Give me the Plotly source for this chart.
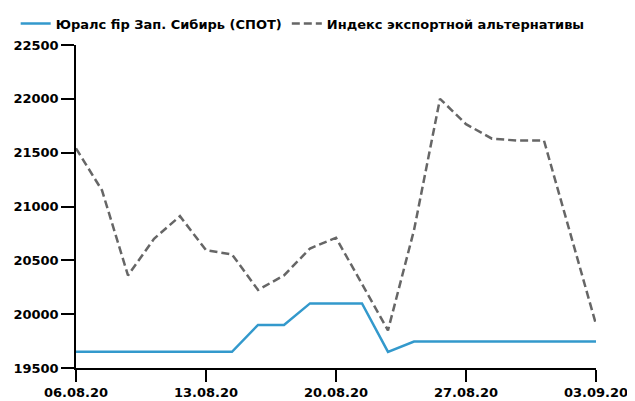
import plotly.graph_objects as go

dates = ["06.08.20", "07.08.20", "10.08.20", "11.08.20", "12.08.20", "13.08.20", "14.08.20",
         "17.08.20", "18.08.20", "19.08.20", "20.08.20", "21.08.20", "24.08.20", "25.08.20",
         "26.08.20", "27.08.20", "28.08.20", "31.08.20", "01.09.20", "02.09.20", "03.09.20"]
urals = [19650, 19650, 19650, 19650, 19650, 19650, 19650,
         19900, 19900, 20100, 20100, 20100, 19650, 19745,
         19745, 19745, 19745, 19745, 19745, 19745, 19745]
export_alt = [21540, 21150, 20360, 20700, 20910, 20595, 20555,
              20225, 20360, 20610, 20710, 20280, 19850, 20780,
              22000, 21765, 21630, 21612, 21612, 20760, 19905]
tick_labels = ["06.08.20", "13.08.20", "20.08.20", "27.08.20", "03.09.20"]
y_ticks = [19500, 20000, 20500, 21000, 21500, 22000, 22500]

FONT = "DejaVu Sans"

fig = go.Figure()
fig.add_trace(go.Scatter(x=dates, y=urals, mode="lines", name="Юралс fip Зап. Сибирь (СПОТ)",
                         line=dict(color="#3399cc", width=2.5)))
fig.add_trace(go.Scatter(x=dates, y=export_alt, mode="lines", name="Индекс экспортной альтернативы",
                         line=dict(color="#666666", width=2.5, dash="8px,4px")))

# page body has an 8px margin; compensate so the plot area lands where the reference has it
fig.update_layout(
    width=627, height=393,
    margin=dict(l=68, r=39, t=37, b=33, autoexpand=False),
    plot_bgcolor="white", paper_bgcolor="white",
    font=dict(family=FONT, size=13, color="black"),
    showlegend=True,
    legend=dict(orientation="h", x=-0.116, xanchor="left", y=1.02, yanchor="bottom",
                font=dict(family=FONT, size=13, color="black", weight="bold"),
                itemwidth=30, tracegroupgap=0, bgcolor="rgba(0,0,0,0)"),
    xaxis=dict(type="category", categoryorder="array", categoryarray=dates,
               range=[0, len(dates) - 1], tickmode="array", tickvals=tick_labels, ticktext=tick_labels,
               showgrid=False, zeroline=False, showline=True, linecolor="black", linewidth=1.5,
               ticks="outside", ticklen=12, tickwidth=1.5, tickcolor="black",
               tickfont=dict(family=FONT, size=13, color="black", weight="bold")),
    yaxis=dict(range=[19500, 22500], tickmode="array", tickvals=y_ticks,
               ticktext=[str(v) for v in y_ticks],
               showgrid=False, zeroline=False, showline=True, linecolor="black", linewidth=1.5,
               ticks="outside", ticklen=13, tickwidth=1.5, tickcolor="black",
               tickfont=dict(family=FONT, size=13, color="black", weight="bold")),
)

fig.write_html("out.html")
